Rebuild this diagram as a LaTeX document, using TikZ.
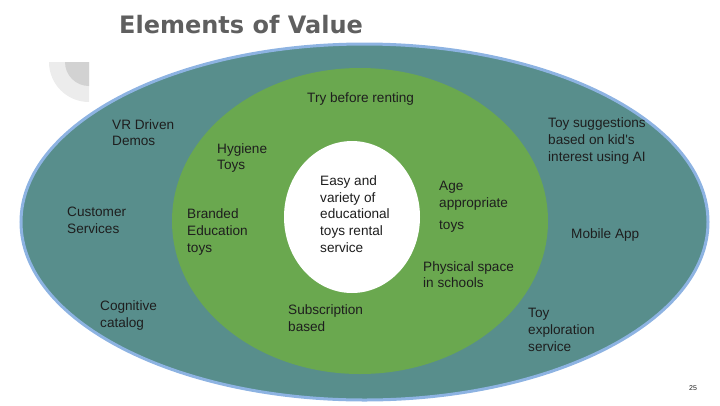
\documentclass[tikz,border=0pt]{standalone}
\usepackage{fontspec}
\setmainfont{Liberation Sans}
\newfontfamily\titlefont{DejaVu Sans}
\usetikzlibrary{positioning}
\definecolor{outerteal}{RGB}{88,142,140}
\definecolor{innergreen}{RGB}{106,168,79}
\definecolor{rimblue}{RGB}{141,179,226}
\definecolor{titlegray}{RGB}{95,95,95}
\definecolor{labeltext}{RGB}{30,30,30}

\begin{document}
\begin{tikzpicture}[
    x=1pt, y=-1pt,
    every node/.style={inner sep=0pt},
    lbl/.style={anchor=west, align=left, text=labeltext,
                font=\fontsize{13.6}{16.7}\selectfont},
    heading/.style={anchor=west, text=titlegray,
                    font=\titlefont\bfseries\fontsize{24}{28}\selectfont},
]
\useasboundingbox (0,0) rectangle (720,405);

% Corner ornament
\fill[gray!15] (89,62) -- (49,62) arc[start angle=180, end angle=270, radius=40pt] -- cycle;
\fill[gray!35] (89,62) -- (65,62) arc[start angle=180, end angle=270, radius=24pt] -- cycle;

% Rings
\fill[outerteal, draw=rimblue, line width=3pt]
  (364.5,222) ellipse [x radius=343.5pt, y radius=178pt];
\fill[innergreen] (360,221) ellipse [x radius=188pt, y radius=153pt];
\fill[white] (352,217) ellipse [x radius=68pt, y radius=76pt];

% Title
\node[heading] (title) at (119,25) {Elements of Value};

% Core
\node[lbl] (core) at (320,214) {Easy and\\variety of\\educational\\toys rental\\service};

% Green ring
\node[lbl] (trial)   at (307,99)    {Try before renting};
\node[lbl] (hygiene) at (217,158)   {Hygiene\\Toys};
\node[lbl] (branded) at (187,232)   {Branded\\Education\\toys};
\node[lbl] (age)     at (439,195.5) {Age\\appropriate};
\node[lbl] (agetoys) at (439,227)   {toys};
\node[lbl] (space)   at (423,274.5) {Physical space\\in schools};
\node[lbl] (subscr)  at (288,318)   {Subscription\\based};

% Outer ring
\node[lbl] (vr)        at (112,132.5) {VR Driven\\Demos};
\node[lbl] (customer)  at (67,220.5)  {Customer\\Services};
\node[lbl] (catalog)   at (100,315.5) {Cognitive\\catalog};
\node[lbl] (suggest)   at (548,141)   {Toy suggestions\\based on kid\textquotesingle s\\interest using AI};
\node[lbl] (mobile)    at (571,235)   {Mobile App};
\node[lbl] (explore)   at (528,330)   {Toy\\exploration\\service};

% Page number
\node[anchor=west, text=labeltext, font=\fontsize{7}{8}\selectfont] (page) at (689,388) {25};

\end{tikzpicture}
\end{document}
